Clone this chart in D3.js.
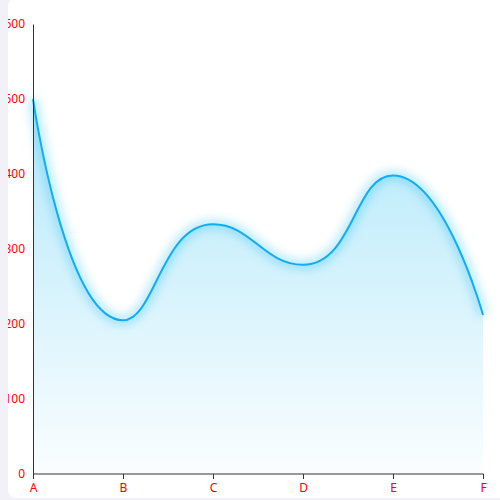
<!DOCTYPE html>
<html>
<head>
<meta charset="utf-8">
<script src="https://cdn.jsdelivr.net/npm/d3@7"></script>
<style>
  html, body { margin: 0; padding: 0; background: #f1f1f7; width: 500px; height: 500px; overflow: hidden; }
  #card { position: absolute; left: 8px; top: -2px; width: 500px; height: 500px; background: #fff; border-radius: 8px; overflow: hidden; }
  svg { position: absolute; left: -8px; top: 2px; }
</style>
</head>
<body>
<div id="card"><div id="chart"></div></div>
<script>
const categories = ["A", "B", "C", "D", "E", "F"];
const values = [500, 205, 333, 279, 398, 212];
const yTicks = [0, 100, 200, 300, 400, 500, 600];

const margin = {top: 24, right: 17, bottom: 26, left: 33},
      width = 500 - margin.left - margin.right,
      height = 500 - margin.top - margin.bottom;

const svg = d3.select("#chart").append("svg")
    .attr("width", 500)
    .attr("height", 500);

const defs = svg.append("defs");
const grad = defs.append("linearGradient")
    .attr("id", "areaGrad");
grad.append("stop").attr("offset", "0%").attr("stop-color", "rgb(0,180,240)").attr("stop-opacity", 0.3);
grad.append("stop").attr("offset", "100%").attr("stop-color", "rgb(0,180,240)").attr("stop-opacity", 0.02);

const blur = defs.append("filter")
    .attr("id", "glow")
    .attr("x", "-10%").attr("y", "-20%").attr("width", "120%").attr("height", "140%");
blur.append("feGaussianBlur").attr("stdDeviation", 5);

const g = svg.append("g")
    .attr("transform", "translate(" + margin.left + "," + margin.top + ")");

const x = d3.scalePoint()
    .domain(categories)
    .range([0, width]);
const y = d3.scaleLinear()
    .domain([0, 600])
    .range([height, 0]);

// echarts-like smoothing (smooth = 0.5, control points clamped between neighbours)
function smoothPath(pts, smooth) {
  let d = "M" + pts[0][0] + "," + pts[0][1];
  let cpx0 = pts[0][0], cpy0 = pts[0][1];
  for (let i = 1; i < pts.length; i++) {
    const [px, py] = pts[i - 1];
    const [cx, cy] = pts[i];
    let cpx1, cpy1, nx0, ny0;
    if (i === pts.length - 1) {
      cpx1 = cx; cpy1 = cy;
    } else {
      const [nx, ny] = pts[i + 1];
      let vx = nx - px, vy = ny - py;
      const lp = Math.hypot(cx - px, cy - py), ln = Math.hypot(nx - cx, ny - cy);
      const r = ln / (ln + lp);
      nx0 = cx + vx * smooth * r;
      ny0 = cy + vy * smooth * r;
      nx0 = Math.max(Math.min(nx0, Math.max(nx, cx)), Math.min(nx, cx));
      ny0 = Math.max(Math.min(ny0, Math.max(ny, cy)), Math.min(ny, cy));
      vx = nx0 - cx; vy = ny0 - cy;
      cpx1 = cx - vx * lp / ln;
      cpy1 = cy - vy * lp / ln;
      cpx1 = Math.max(Math.min(cpx1, Math.max(px, cx)), Math.min(px, cx));
      cpy1 = Math.max(Math.min(cpy1, Math.max(py, cy)), Math.min(py, cy));
      vx = cx - cpx1; vy = cy - cpy1;
      nx0 = cx + vx * ln / lp;
      ny0 = cy + vy * ln / lp;
    }
    d += "C" + cpx0 + "," + cpy0 + "," + cpx1 + "," + cpy1 + "," + cx + "," + cy;
    cpx0 = nx0; cpy0 = ny0;
  }
  return d;
}

const pts = categories.map((c, i) => [x(c), y(values[i])]);
const linePath = smoothPath(pts, 0.5);
const areaPath = linePath + "L" + x(categories[categories.length - 1]) + "," + y(0) + "L" + x(categories[0]) + "," + y(0) + "Z";

// gradient box starts at the top of the area
grad.attr("gradientUnits", "userSpaceOnUse")
    .attr("x1", 0).attr("x2", 0).attr("y1", y(d3.max(values))).attr("y2", y(0));

// soft halo along the top edge of the area
g.append("path")
    .attr("d", linePath)
    .attr("fill", "none")
    .attr("stroke", "rgb(0,180,240)")
    .attr("stroke-opacity", 0.28)
    .attr("stroke-width", 10)
    .attr("filter", "url(#glow)");

g.append("path")
    .attr("d", areaPath)
    .attr("fill", "url(#areaGrad)");

g.append("path")
    .attr("d", linePath)
    .attr("fill", "none")
    .attr("stroke", "#12adf0")
    .attr("stroke-width", 2);

// axes
const xAxis = g.append("g")
    .attr("transform", "translate(0," + height + ")")
    .call(d3.axisBottom(x).tickSize(5).tickPadding(4));
xAxis.select(".domain").attr("stroke", "#333").attr("d", "M0.5,0H" + (width + 0.5));
xAxis.selectAll(".tick line").attr("stroke", "#333");

const yAxis = g.append("g")
    .call(d3.axisLeft(y).tickValues(yTicks).tickSize(0).tickPadding(8));
yAxis.select(".domain").attr("stroke", "#333");

g.selectAll(".tick text")
    .attr("fill", "red")
    .style("font-family", "'Noto Sans', sans-serif")
    .style("font-size", "12px");
</script>
</body>
</html>
